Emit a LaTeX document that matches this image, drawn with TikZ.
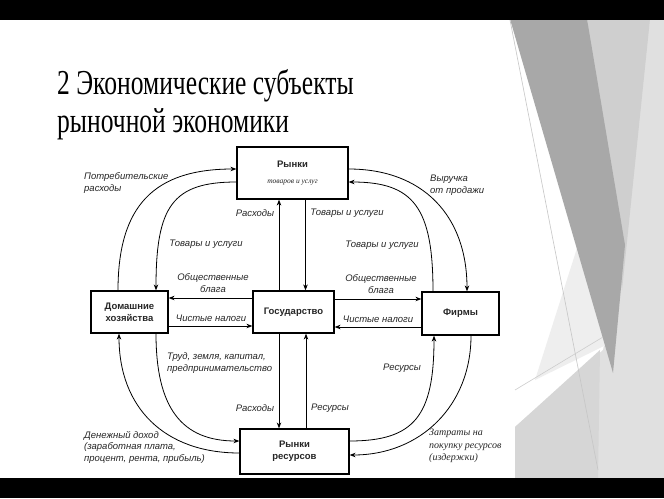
\documentclass[tikz,border=0pt]{standalone}
\usepackage{fontspec}
\setmainfont{Liberation Serif}
\setsansfont{Liberation Sans}
\usetikzlibrary{arrows.meta,calc}
\definecolor{dg}{HTML}{A8A8A8}
\definecolor{lg}{HTML}{CFCFCF}
\definecolor{vlg}{HTML}{E0E0E0}
\definecolor{blg}{HTML}{D6D6D6}
\definecolor{xlg}{HTML}{EEEEEE}
\definecolor{txt}{HTML}{262626}
\begin{document}
\begin{tikzpicture}[x=1pt,y=-1pt,
 box/.style={draw,line width=1.2pt,fill=white,inner sep=0pt,align=center,
   font=\sffamily\bfseries\fontsize{9.5}{12}\selectfont,text=txt},
 lbl/.style={font=\sffamily\itshape\fontsize{9.5}{11.5}\selectfont,inner sep=0pt,text=txt},
 slbl/.style={font=\rmfamily\itshape\fontsize{10}{12.5}\selectfont,inner sep=0pt,text=txt},
 ttl/.style={anchor=base west,inner sep=0pt,font=\fontsize{35}{38}\selectfont},
 arr/.style={line width=0.8pt,-{Stealth[length=6pt,width=4.5pt]}},
 deco/.style={line width=0.6pt}]
\useasboundingbox (0,0) rectangle (664,498);
\fill[white] (0,0) rectangle (664,498);
% decoration on the right
\fill[vlg] (587,19)--(664,19)--(664,478)--(515,478)--(515,427)--(603,350)--(625,245)--cycle;
\fill[lg] (587,19)--(650,19)--(622,290)--cycle;
\fill[blg] (515,427)--(600,350)--(598,478)--(515,478)--cycle;
\fill[xlg] (535,380)--(578,245)--(606,345)--cycle;
\fill[dg] (510,19)--(587,19)--(625,245)--(613,373)--cycle;
\draw[deco,gray!45] (510,20)--(598,470);
\draw[deco,gray!40] (515,390)--(603,337);
% black bars
\fill[black] (0,0) rectangle (664,19.5);
\fill[black] (0,477.5) rectangle (664,498);
% title
\node[ttl] (t1) at (57,94) {\scalebox{0.73}[1]{2 Экономические субъекты}};
\node[ttl] (t2) at (57,132) {\scalebox{0.73}[1]{рыночной экономики}};
% boxes
\node[box,minimum width=111pt,minimum height=52pt] (mg) at (292.5,173)
  {Рынки\\[4pt]{\rmfamily\mdseries\itshape\fontsize{7.5}{9}\selectfont товаров и услуг}};
\node[box,minimum width=77pt,minimum height=42pt] (hh) at (129.5,312) {Домашние\\хозяйства};
\node[box,minimum width=81pt,minimum height=42pt] (gov) at (293.5,312) {Государство};
\node[box,minimum width=77pt,minimum height=43pt] (firms) at (460.5,313.5) {Фирмы};
\node[box,minimum width=109pt,minimum height=45pt] (mr) at (294.5,451.5) {Рынки\\ресурсов};
% curved flows
\draw[arr] ([xshift=-11.5pt]hh.north) .. controls +(0,-85) and +(-82,0) .. ([yshift=4pt]mg.west);
\draw[arr] ([yshift=-9pt]mg.west) .. controls +(-64,0) and +(0,-84) .. ([xshift=26.5pt]hh.north);
\draw[arr] ([yshift=-1.5pt]mr.west) .. controls +(-75,0) and +(0,74) .. ([xshift=-10.5pt]hh.south);
\draw[arr] ([xshift=26.5pt]hh.south) .. controls +(0,74) and +(-58,0) .. ([yshift=10.5pt]mr.west);
\draw[arr] ([yshift=4pt]mg.east) .. controls +(74,0) and +(0,-76) .. ([xshift=6.5pt]firms.north);
\draw[arr] ([xshift=-27.5pt]firms.north) .. controls +(0,-84) and +(65,0) .. ([yshift=-9pt]mg.east);
\draw[arr] ([yshift=10.5pt]mr.east) .. controls +(65,0) and +(0,80) .. ([xshift=-26.5pt]firms.south);
\draw[arr] ([xshift=10.5pt]firms.south) .. controls +(0,70) and +(71,0) .. ([yshift=-3.5pt]mr.east);
% vertical flows
\coordinate (v1) at ([xshift=-14.5pt]gov.north);
\draw[arr] (v1) -- (v1 |- mg.south);
\coordinate (v2) at ([xshift=13pt]mg.south);
\draw[arr] (v2) -- (v2 |- gov.north);
\coordinate (v3) at ([xshift=-14.5pt]gov.south);
\draw[arr] (v3) -- (v3 |- mr.north);
\coordinate (v4) at ([xshift=11.5pt]mr.north);
\draw[arr] (v4) -- (v4 |- gov.south);
% horizontal flows
\coordinate (h1) at ([yshift=14pt]gov.west);
\draw[arr] (h1) -- (h1 -| hh.east);
\coordinate (h2) at ([yshift=-14pt]hh.east);
\draw[arr] (h2) -- (h2 -| gov.west);
\coordinate (h3) at ([yshift=13pt]gov.east);
\draw[arr] (h3) -- (h3 -| firms.west);
\coordinate (h4) at ([yshift=-13.5pt]firms.west);
\draw[arr] (h4) -- (h4 -| gov.east);
% labels
\node[lbl,anchor=west,align=left] (l1) at (84,183) {Потребительские\\расходы};
\node[lbl] (l2) at (206,244) {Товары и услуги};
\node[lbl] (l3) at (255,213) {Расходы};
\node[lbl] (l4) at (347,213) {Товары и услуги};
\node[lbl,anchor=west,align=left] (l5) at (430,185) {Выручка\\от продажи};
\node[lbl] (l6) at (382,245) {Товары и услуги};
\node[lbl,align=center] (l7) at (213,283) {Общественные\\блага};
\node[lbl] (l8) at (211,318) {Чистые налоги};
\node[lbl,align=center] (l9) at (381,284) {Общественные\\блага};
\node[lbl] (l10) at (378,319) {Чистые налоги};
\node[lbl,anchor=west,align=left] (l11) at (167,363) {Труд, земля, капитал,\\предпринимательство};
\node[lbl] (l12) at (402,368) {Ресурсы};
\node[lbl] (l13) at (255,408) {Расходы};
\node[lbl] (l14) at (330,408) {Ресурсы};
\node[lbl,anchor=west,align=left] (l15) at (84,447) {Денежный доход\\(заработная плата,\\процент, рента, прибыль)};
\node[slbl,anchor=west,align=left] (l16) at (429,446) {Затраты на\\покупку ресурсов\\(издержки)};
\end{tikzpicture}
\end{document}
